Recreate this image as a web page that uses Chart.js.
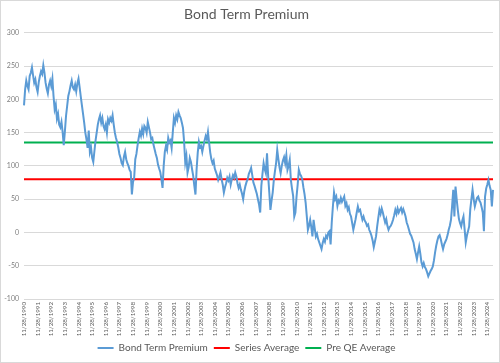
<!DOCTYPE html>
<html>
<head>
<meta charset="utf-8">
<script src="https://cdn.jsdelivr.net/npm/chart.js@4.4.0/dist/chart.umd.min.js"></script>
<style>
  html, body { margin: 0; padding: 0; background: #fff; }
  #wrap { width: 500px; height: 363px; }
</style>
</head>
<body>
<div id="wrap"><canvas id="chart" width="500" height="363"></canvas></div>
<script>
// monthly readings, first point 11/28/1990
const startYear = 1990;
const startMonth = 11;

const termPremium = [
  191, 215, 228, 220, 215, 235, 240, 248, 236, 225, 230, 218,
  211, 226, 235, 242, 238, 251, 240, 225, 216, 209, 222, 228,
  220, 231, 205, 185, 192, 171, 178, 162, 158, 166, 151, 131,
  152, 175, 190, 205, 212, 221, 228, 218, 215, 222, 212, 224,
  231, 218, 204, 191, 178, 165, 150, 140, 127, 153, 121, 128,
  112, 106, 122, 138, 150, 162, 170, 176, 165, 172, 160, 155,
  162, 150, 170, 165, 172, 168, 176, 162, 150, 142, 136, 128,
  118, 112, 104, 101, 114, 121, 110, 104, 100, 94, 91, 57,
  76, 82, 110, 118, 131, 142, 151, 145, 156, 148, 160, 157,
  150, 166, 158, 150, 140, 142, 132, 125, 118, 112, 102, 96,
  91, 80, 67, 100, 121, 130, 124, 142, 135, 138, 127, 150,
  172, 165, 176, 170, 181, 176, 172, 165, 157, 136, 105, 115,
  90, 98, 112, 106, 95, 85, 70, 57, 95, 120, 136, 128,
  130, 121, 130, 138, 145, 140, 151, 135, 120, 110, 104, 108,
  96, 91, 86, 79, 84, 90, 80, 72, 60, 68, 74, 82,
  78, 84, 72, 80, 86, 82, 90, 84, 74, 67, 72, 64,
  58, 50, 62, 70, 76, 80, 88, 92, 97, 86, 75, 70,
  64, 58, 50, 42, 30, 70, 88, 104, 95, 89, 119, 85,
  60, 34, 48, 60, 79, 92, 104, 124, 110, 98, 89, 100,
  108, 113, 104, 116, 94, 100, 109, 79, 66, 55, 24, 30,
  54, 72, 94, 88, 85, 80, 68, 58, 45, 25, 4, 10,
  19, 8, -6, 19, 6, -6, -2, -10, -15, -20, -25, -16,
  -10, -14, -5, -8, 0, 2, -18, 15, 39, 60, 50, 54,
  40, 48, 45, 52, 46, 50, 54, 40, 44, 34, 38, 28,
  24, 14, 4, 12, 20, 30, 39, 32, 34, 26, 19, 24,
  18, 15, 10, 12, 4, 0, -5, -12, -22, -14, -6, 9,
  22, 34, 28, 36, 30, 22, 15, 20, 10, 4, 8, 10,
  14, 19, 26, 34, 28, 36, 30, 34, 37, 30, 35, 30,
  24, 15, 10, 4, -2, -5, -10, -15, -25, -32, -40, -30,
  -21, -32, -45, -51, -46, -52, -55, -60, -66, -62, -58, -55,
  -51, -42, -30, -20, -12, -6, -4, -10, -18, -25, -18, -14,
  -10, -4, 4, 10, 19, 40, 64, 24, 69, 50, 34, 20,
  14, 9, 18, 24, 5, -15, -5, 2, 9, 35, 50, 64,
  50, 39, 46, 52, 54, 48, 45, 38, 30, 2, 54, 66,
  72, 79, 70, 64, 39, 64
];

const seriesAverage = 80;
const preQEAverage = 135;

const yTicks = { min: -100, max: 300, step: 50 };

// date labels, one per month
const labels = termPremium.map((v, i) => {
  const m = (startMonth - 1 + i) % 12 + 1;
  const y = startYear + Math.floor((startMonth - 1 + i) / 12);
  return m + '/28/' + y;
});

const grey = '#595959';
const font = 'Lato, "Liberation Sans", sans-serif';

const borderPlugin = {
  id: 'outerBorder',
  afterDraw(chart) {
    const ctx = chart.ctx;
    ctx.save();
    ctx.strokeStyle = '#d9d9d9';
    ctx.lineWidth = 1;
    ctx.strokeRect(0.5, 0.5, chart.width - 1, chart.height - 1);
    ctx.restore();
  }
};

new Chart(document.getElementById('chart'), {
  type: 'line',
  data: {
    labels: labels,
    datasets: [
      {
        label: 'Bond Term Premium',
        data: termPremium,
        borderColor: '#5b9bd5',
        backgroundColor: '#5b9bd5',
        borderWidth: 2,
        pointRadius: 0,
        tension: 0
      },
      {
        label: 'Series Average',
        data: labels.map(() => seriesAverage),
        borderColor: '#ff0000',
        backgroundColor: '#ff0000',
        borderWidth: 2,
        pointRadius: 0
      },
      {
        label: 'Pre QE Average',
        data: labels.map(() => preQEAverage),
        borderColor: '#00b050',
        backgroundColor: '#00b050',
        borderWidth: 2,
        pointRadius: 0
      }
    ]
  },
  options: {
    responsive: false,
    animation: false,
    layout: { padding: { left: 0, right: 7, top: 0, bottom: 0 } },
    plugins: {
      title: {
        display: true,
        text: 'Bond Term Premium',
        color: grey,
        font: { family: font, size: 14, weight: 'normal' },
        padding: { top: 6, bottom: 10 }
      },
      legend: {
        position: 'bottom',
        labels: {
          color: grey,
          font: { family: font, size: 10 },
          boxWidth: 16,
          boxHeight: 2,
          padding: 6,
          generateLabels: function (chart) {
            const items = Chart.defaults.plugins.legend.labels.generateLabels(chart);
            items.forEach(it => { it.lineWidth = 0; });
            return items;
          }
        }
      },
      tooltip: { enabled: false }
    },
    scales: {
      x: {
        grid: { display: false, drawTicks: false, tickLength: 0 },
        border: { color: '#d9d9d9' },
        ticks: {
          autoSkip: false,
          maxRotation: 90,
          minRotation: 90,
          padding: 3,
          color: grey,
          font: { family: font, size: 6.2 },
          callback: function (value, index) {
            return index % 12 === 0 ? this.getLabelForValue(value) : null;
          }
        },
        afterFit: function (scale) { scale.height = 38; }
      },
      y: {
        min: yTicks.min,
        max: yTicks.max,
        border: { display: false },
        grid: { color: '#d9d9d9', drawTicks: false },
        ticks: {
          stepSize: yTicks.step,
          padding: 5,
          color: '#7f7f7f',
          font: { family: font, size: 7 }
        },
        afterFit: function (scale) { scale.width = 24; }
      }
    }
  },
  plugins: [borderPlugin]
});
</script>
</body>
</html>
